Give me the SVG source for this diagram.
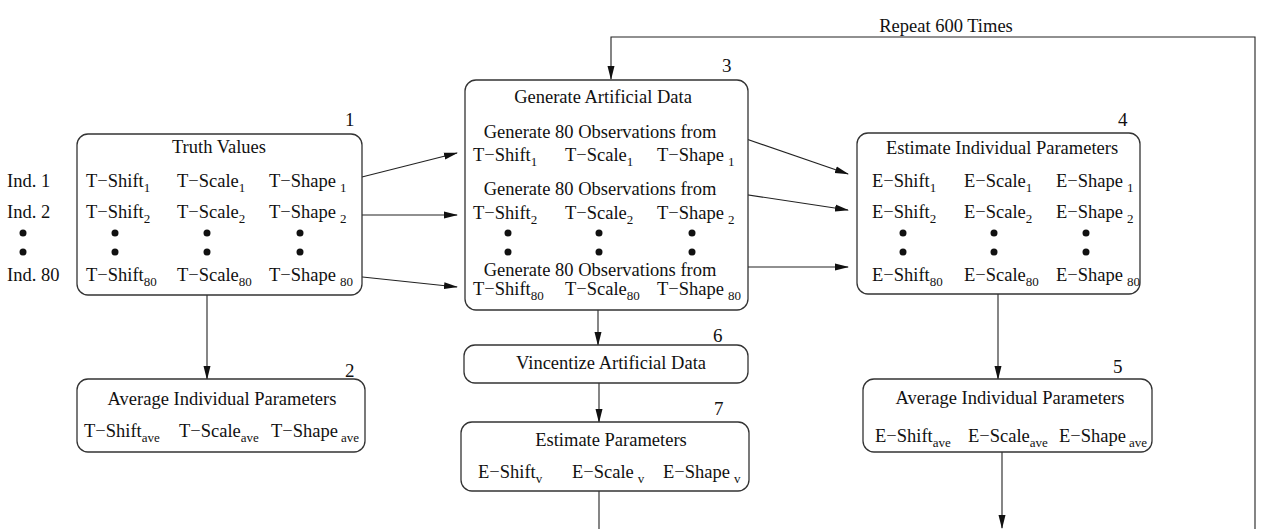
<svg xmlns="http://www.w3.org/2000/svg" width="1261" height="529" viewBox="0 0 1261 529">
<style>
text{font-family:"Liberation Serif","Times New Roman",serif;font-size:18.5px;fill:#111}
.c{text-anchor:middle}
.n{font-size:19px}
.s{font-size:13px}
.box{fill:#fff;stroke:#333;stroke-width:1.3}
.ln{fill:none;stroke:#222;stroke-width:1.1}
.dot{fill:#111}
</style>
<defs>
<marker id="ah" markerWidth="14" markerHeight="8" refX="13" refY="4" orient="auto" markerUnits="userSpaceOnUse">
<path d="M0,0.5 L14,4 L0,7.5 Z" fill="#111"/>
</marker>
</defs>
<rect width="1261" height="529" fill="#fff"/>

<g id="connectors">
<line class="ln" x1="350" y1="180" x2="457" y2="153" marker-end="url(#ah)"/>
<line class="ln" x1="349" y1="215" x2="457" y2="215" marker-end="url(#ah)"/>
<line class="ln" x1="353" y1="276" x2="457" y2="287" marker-end="url(#ah)"/>
<line class="ln" x1="729" y1="133" x2="848" y2="174" marker-end="url(#ah)"/>
<line class="ln" x1="722" y1="191" x2="848" y2="210" marker-end="url(#ah)"/>
<line class="ln" x1="726" y1="267" x2="848" y2="267" marker-end="url(#ah)"/>
<line class="ln" x1="207" y1="295" x2="207" y2="379" marker-end="url(#ah)"/>
<line class="ln" x1="598" y1="310" x2="598" y2="345" marker-end="url(#ah)"/>
<line class="ln" x1="599" y1="383" x2="599" y2="422" marker-end="url(#ah)"/>
<line class="ln" x1="599" y1="491" x2="599" y2="529"/>
<line class="ln" x1="998" y1="294" x2="998" y2="379" marker-end="url(#ah)"/>
<line class="ln" x1="1002" y1="452" x2="1002" y2="528" marker-end="url(#ah)"/>
<polyline class="ln" points="1255,529 1255,37 611,37 611,79" marker-end="url(#ah)"/>
<text class="c" x="946" y="32">Repeat 600 Times</text>
</g>

<g id="labels">
<text x="7" y="187">Ind. 1</text>
<text x="7" y="218">Ind. 2</text>
<circle class="dot" cx="23" cy="233" r="3.5"/>
<circle class="dot" cx="23" cy="252" r="3.5"/>
<text x="7" y="281">Ind. 80</text>
</g>

<g id="node1">
<rect class="box" x="77" y="134" width="285" height="161" rx="11"/>
<text class="n" x="345" y="126">1</text>
<text class="c" x="219" y="153">Truth Values</text>
<text x="86" y="187">T−Shift<tspan class="s" dy="5">1</tspan></text>
<text x="177" y="187">T−Scale<tspan class="s" dy="5">1</tspan></text>
<text x="269" y="187">T−Shape<tspan class="s" dx="4" dy="5">1</tspan></text>
<text x="86" y="218">T−Shift<tspan class="s" dy="5">2</tspan></text>
<text x="177" y="218">T−Scale<tspan class="s" dy="5">2</tspan></text>
<text x="269" y="218">T−Shape<tspan class="s" dx="4" dy="5">2</tspan></text>
<circle class="dot" cx="115" cy="233" r="3.5"/><circle class="dot" cx="115" cy="252" r="3.5"/>
<circle class="dot" cx="207" cy="233" r="3.5"/><circle class="dot" cx="207" cy="252" r="3.5"/>
<circle class="dot" cx="300" cy="233" r="3.5"/><circle class="dot" cx="300" cy="252" r="3.5"/>
<text x="86" y="281">T−Shift<tspan class="s" dy="5">80</tspan></text>
<text x="177" y="281">T−Scale<tspan class="s" dy="5">80</tspan></text>
<text x="269" y="281">T−Shape<tspan class="s" dx="4" dy="5">80</tspan></text>
</g>

<g id="node2">
<rect class="box" x="77" y="379" width="288" height="73" rx="11"/>
<text class="n" x="345" y="377">2</text>
<text class="c" x="222" y="405">Average Individual Parameters</text>
<text x="84" y="437">T−Shift<tspan class="s" dy="5">ave</tspan></text>
<text x="179" y="437">T−Scale<tspan class="s" dy="5">ave</tspan></text>
<text x="271" y="437">T−Shape<tspan class="s" dx="3" dy="5">ave</tspan></text>
</g>

<g id="node3">
<rect class="box" x="465" y="80" width="283" height="230" rx="11"/>
<text class="n" x="722" y="72">3</text>
<text class="c" x="603" y="103">Generate Artificial Data</text>
<text class="c" x="600" y="138">Generate 80 Observations from</text>
<text x="473" y="161">T−Shift<tspan class="s" dy="5">1</tspan></text>
<text x="565" y="161">T−Scale<tspan class="s" dy="5">1</tspan></text>
<text x="657" y="161">T−Shape<tspan class="s" dx="4" dy="5">1</tspan></text>
<text class="c" x="600" y="195">Generate 80 Observations from</text>
<text x="473" y="219">T−Shift<tspan class="s" dy="5">2</tspan></text>
<text x="565" y="219">T−Scale<tspan class="s" dy="5">2</tspan></text>
<text x="657" y="219">T−Shape<tspan class="s" dx="4" dy="5">2</tspan></text>
<circle class="dot" cx="508" cy="233" r="3.5"/><circle class="dot" cx="508" cy="252" r="3.5"/>
<circle class="dot" cx="599" cy="233" r="3.5"/><circle class="dot" cx="599" cy="252" r="3.5"/>
<circle class="dot" cx="692" cy="233" r="3.5"/><circle class="dot" cx="692" cy="252" r="3.5"/>
<text class="c" x="600" y="276">Generate 80 Observations from</text>
<text x="473" y="295">T−Shift<tspan class="s" dy="5">80</tspan></text>
<text x="565" y="295">T−Scale<tspan class="s" dy="5">80</tspan></text>
<text x="657" y="295">T−Shape<tspan class="s" dx="4" dy="5">80</tspan></text>
</g>

<g id="node4">
<rect class="box" x="857" y="133" width="283" height="161" rx="11"/>
<text class="n" x="1118" y="126">4</text>
<text class="c" x="1002" y="154">Estimate Individual Parameters</text>
<text x="872" y="187">E−Shift<tspan class="s" dy="5">1</tspan></text>
<text x="964" y="187">E−Scale<tspan class="s" dy="5">1</tspan></text>
<text x="1056" y="187">E−Shape<tspan class="s" dx="4" dy="5">1</tspan></text>
<text x="872" y="218">E−Shift<tspan class="s" dy="5">2</tspan></text>
<text x="964" y="218">E−Scale<tspan class="s" dy="5">2</tspan></text>
<text x="1056" y="218">E−Shape<tspan class="s" dx="4" dy="5">2</tspan></text>
<circle class="dot" cx="903" cy="233" r="3.5"/><circle class="dot" cx="903" cy="252" r="3.5"/>
<circle class="dot" cx="994" cy="233" r="3.5"/><circle class="dot" cx="994" cy="252" r="3.5"/>
<circle class="dot" cx="1086" cy="233" r="3.5"/><circle class="dot" cx="1086" cy="252" r="3.5"/>
<text x="872" y="281">E−Shift<tspan class="s" dy="5">80</tspan></text>
<text x="964" y="281">E−Scale<tspan class="s" dy="5">80</tspan></text>
<text x="1056" y="281">E−Shape<tspan class="s" dx="4" dy="5">80</tspan></text>
</g>

<g id="node5">
<rect class="box" x="863" y="379" width="289" height="73" rx="11"/>
<text class="n" x="1113" y="373">5</text>
<text class="c" x="1010" y="404">Average Individual Parameters</text>
<text x="875" y="442">E−Shift<tspan class="s" dy="5">ave</tspan></text>
<text x="968" y="442">E−Scale<tspan class="s" dy="5">ave</tspan></text>
<text x="1059" y="442">E−Shape<tspan class="s" dx="3" dy="5">ave</tspan></text>
</g>

<g id="node6">
<rect class="box" x="464" y="345" width="284" height="38" rx="11"/>
<text class="n" x="713" y="342">6</text>
<text class="c" x="611" y="369">Vincentize Artificial Data</text>
</g>

<g id="node7">
<rect class="box" x="461" y="422" width="288" height="69" rx="11"/>
<text class="n" x="714" y="415">7</text>
<text class="c" x="611" y="446">Estimate Parameters</text>
<text x="478" y="478">E−Shift<tspan class="s" dy="5">v</tspan></text>
<text x="572" y="478">E−Scale<tspan class="s" dx="4" dy="5">v</tspan></text>
<text x="663" y="478">E−Shape<tspan class="s" dx="4" dy="5">v</tspan></text>
</g>
</svg>
